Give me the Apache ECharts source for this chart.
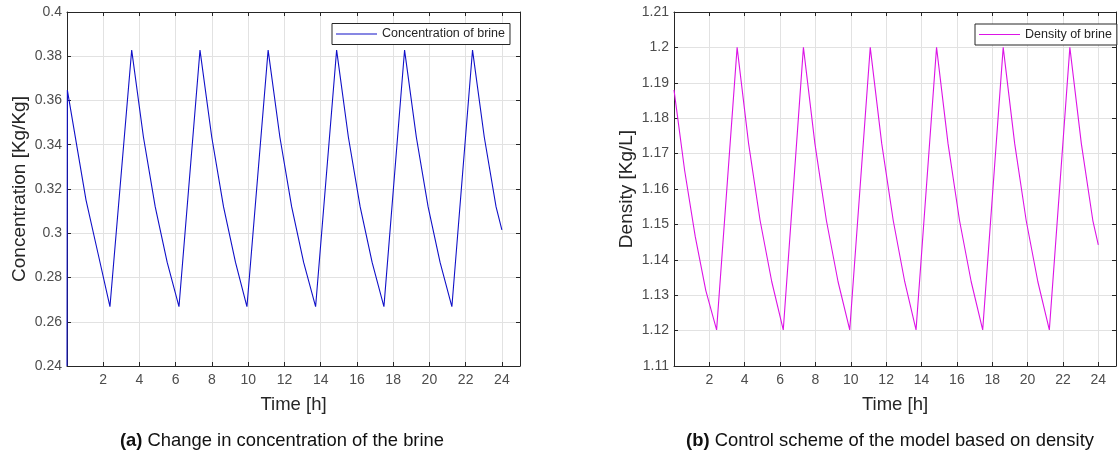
<!DOCTYPE html>
<html>
<head>
<meta charset="utf-8">
<script src="https://cdn.jsdelivr.net/npm/echarts@6/dist/echarts.min.js"></script>
<style>html,body{margin:0;padding:0;background:#fff;}#c{width:1119px;height:454px;}</style>
</head>
<body>
<div id="c"></div>
<script>
// ---- data ----
const timeA = [0, 0.02, 0.6, 1.05, 1.7, 2.37, 3.57,
  4.22, 4.87, 5.53, 6.18, 7.34,
  7.99, 8.64, 9.30, 9.93, 11.10,
  11.75, 12.40, 13.06, 13.72, 14.88,
  15.53, 16.18, 16.84, 17.49, 18.63,
  19.28, 19.93, 20.59, 21.24, 22.38,
  23.03, 23.68, 24.0];
const concentration = [0.24, 0.3647, 0.3367, 0.315, 0.2913, 0.2668, 0.3828,
  0.3434, 0.3119, 0.2868, 0.2668, 0.3828,
  0.3434, 0.3119, 0.2868, 0.2668, 0.3828,
  0.3434, 0.3119, 0.2868, 0.2668, 0.3828,
  0.3434, 0.3119, 0.2868, 0.2668, 0.3828,
  0.3434, 0.3119, 0.2868, 0.2668, 0.3828,
  0.3434, 0.3119, 0.3015];
const timeB = [0, 0.6, 1.2, 1.8, 2.41, 3.57,
  4.22, 4.87, 5.53, 6.18, 7.32,
  7.97, 8.62, 9.28, 9.94, 11.10,
  11.75, 12.40, 13.05, 13.69, 14.85,
  15.50, 16.15, 16.81, 17.46, 18.62,
  19.27, 19.92, 20.58, 21.23, 22.39,
  23.04, 23.69, 24.0];
const density = [1.188, 1.1653, 1.1466, 1.1313, 1.1202, 1.2,
  1.1728, 1.1511, 1.1338, 1.1202, 1.2,
  1.1728, 1.1511, 1.1338, 1.1202, 1.2,
  1.1728, 1.1511, 1.1338, 1.1202, 1.2,
  1.1728, 1.1511, 1.1338, 1.1202, 1.2,
  1.1728, 1.1511, 1.1338, 1.1202, 1.2,
  1.1728, 1.1511, 1.1442];
const seriesNames = ['Concentration of brine', 'Density of brine'];
const xName = 'Time [h]';
const yNames = ['Concentration [Kg/Kg]', 'Density [Kg/L]'];
const captions = ['(a)', ' Change in concentration of the brine', '(b)', ' Control scheme of the model based on density'];

// ---- chart ----
const FONT = "'Liberation Sans', Arial, Helvetica, sans-serif";
const AX = '#262626';
const LBL = '#4d4d4d';
const GRIDC = '#e2e2e2';
const COLA = '#1010c8';
const COLB = '#dc14e6';

function pairs(xs, ys) { return xs.map((x, i) => [x, ys[i]]); }

function xMain(grid) {
  return {
    type: 'value', gridIndex: grid, position: 'bottom', min: 0, max: 25, interval: 2,
    name: xName, nameLocation: 'middle', nameGap: 29,
    nameTextStyle: { fontFamily: FONT, fontSize: 18.5, color: AX },
    axisLine: { show: true, onZero: false, lineStyle: { color: AX, width: 1 } },
    axisTick: { show: true, inside: true, length: 4, lineStyle: { color: AX } },
    axisLabel: { margin: 7, color: LBL, fontFamily: FONT, fontSize: 14,
      formatter: v => (v === 0 || v === 25) ? '' : String(v) },
    splitLine: { show: true, lineStyle: { color: GRIDC, width: 1 } }
  };
}
function xTop(grid) {
  return {
    type: 'value', gridIndex: grid, position: 'top', min: 0, max: 25, interval: 2,
    axisLine: { show: true, onZero: false, lineStyle: { color: AX, width: 1 } },
    axisTick: { show: true, inside: true, length: 4, lineStyle: { color: AX } },
    axisLabel: { show: false }, splitLine: { show: false }
  };
}
function yMain(grid, min, max, interval, name) {
  return {
    type: 'value', gridIndex: grid, position: 'left', min: min, max: max, interval: interval,
    name: name, nameLocation: 'middle', nameGap: 38, nameRotate: 90,
    nameTextStyle: { fontFamily: FONT, fontSize: 19, color: AX },
    axisLine: { show: true, onZero: false, lineStyle: { color: AX, width: 1 } },
    axisTick: { show: true, inside: true, length: 4, lineStyle: { color: AX } },
    axisLabel: { margin: 5, color: LBL, fontFamily: FONT, fontSize: 14 },
    splitLine: { show: true, lineStyle: { color: GRIDC, width: 1 } }
  };
}
function yRight(grid, min, max, interval) {
  return {
    type: 'value', gridIndex: grid, position: 'right', min: min, max: max, interval: interval,
    axisLine: { show: true, onZero: false, lineStyle: { color: AX, width: 1 } },
    axisTick: { show: true, inside: true, length: 4, lineStyle: { color: AX } },
    axisLabel: { show: false }, splitLine: { show: false }
  };
}
function legend(name, color, left, top) {
  return {
    data: [{ name: name, icon: 'rect', itemStyle: { color: color, borderWidth: 0 } }],
    left: left, top: top, orient: 'horizontal',
    padding: [3, 5, 3, 4], itemWidth: 41, itemHeight: 1.2, itemGap: 0,
    backgroundColor: '#ffffff', borderColor: AX, borderWidth: 1, borderRadius: 0,
    textStyle: { fontFamily: FONT, fontSize: 12.5, color: AX, lineHeight: 15 },
    selectedMode: false
  };
}

const chart = echarts.init(document.getElementById('c'), null, { renderer: 'canvas' });
chart.setOption({
  animation: false,
  backgroundColor: '#ffffff',
  grid: [
    { left: 67, top: 12, width: 453, height: 354, show: false, containLabel: false },
    { left: 674, top: 12, width: 453, height: 354, show: false, containLabel: false }
  ],
  xAxis: [xMain(0), xTop(0), xMain(1), xTop(1)],
  yAxis: [
    yMain(0, 0.24, 0.4, 0.02, yNames[0]), yRight(0, 0.24, 0.4, 0.02),
    yMain(1, 1.11, 1.21, 0.01, yNames[1]), yRight(1, 1.11, 1.21, 0.01)
  ],
  legend: [legend(seriesNames[0], COLA, 332, 23.5), legend(seriesNames[1], COLB, 975, 24)],
  series: [
    { name: seriesNames[0], type: 'line', xAxisIndex: 0, yAxisIndex: 0,
      data: pairs(timeA, concentration), symbol: 'none', color: COLA,
      lineStyle: { width: 1.1, color: COLA } },
    { name: seriesNames[1], type: 'line', xAxisIndex: 2, yAxisIndex: 2,
      data: pairs(timeB, density), symbol: 'none', color: COLB,
      lineStyle: { width: 1.1, color: COLB } }
  ],
  graphic: [
    { type: 'text', x: 282, y: 441,
      style: { text: '{b|' + captions[0] + '}' + captions[1], align: 'center', verticalAlign: 'middle',
        fontFamily: FONT, fontSize: 18.4, fill: '#111',
        rich: { b: { fontWeight: 'bold', fontFamily: FONT, fontSize: 18.4, fill: '#111' } } } },
    { type: 'text', x: 890, y: 441,
      style: { text: '{b|' + captions[2] + '}' + captions[3], align: 'center', verticalAlign: 'middle',
        fontFamily: FONT, fontSize: 18.4, fill: '#111',
        rich: { b: { fontWeight: 'bold', fontFamily: FONT, fontSize: 18.4, fill: '#111' } } } }
  ]
});
</script>
</body>
</html>
